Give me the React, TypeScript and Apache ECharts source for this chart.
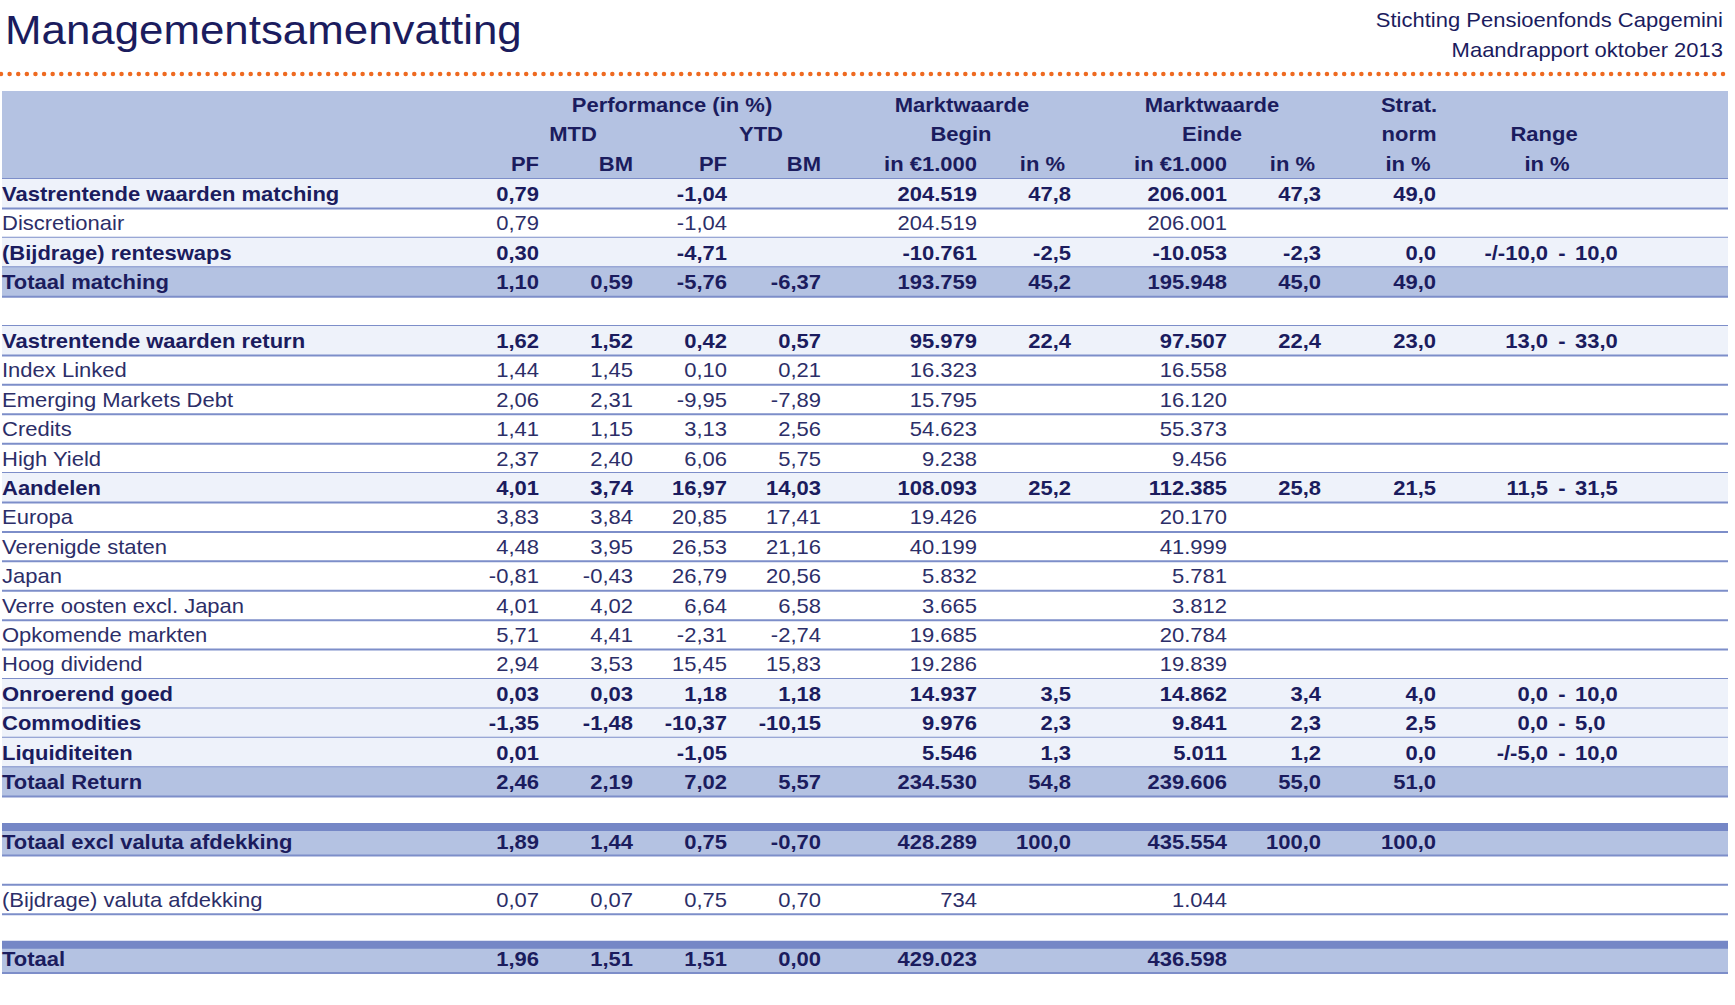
import React, { useEffect, useRef } from "react";
import * as echarts from "echarts";

// ---------- data ----------
const rowLabels: string[] = [
  "Vastrentende waarden matching",
  "Discretionair",
  "(Bijdrage) renteswaps",
  "Totaal matching",
  "",
  "Vastrentende waarden return",
  "Index Linked",
  "Emerging Markets Debt",
  "Credits",
  "High Yield",
  "Aandelen",
  "Europa",
  "Verenigde staten",
  "Japan",
  "Verre oosten excl. Japan",
  "Opkomende markten",
  "Hoog dividend",
  "Onroerend goed",
  "Commodities",
  "Liquiditeiten",
  "Totaal Return",
  "",
  "Totaal excl valuta afdekking",
  "",
  "(Bijdrage) valuta afdekking",
  "",
  "Totaal",
];

// sub = bold on light band, item = plain, total = bold on blue band, grand = total with top bar
const rowKinds: string[] = [
  "sub", "item", "sub", "total", "blank",
  "sub", "item", "item", "item", "item",
  "sub", "item", "item", "item", "item", "item", "item",
  "sub", "sub", "sub", "total", "blank",
  "grand", "blank", "item", "blank", "grand",
];

const N = null;
const mtdPF = [0.79, 0.79, 0.30, 1.10, N, 1.62, 1.44, 2.06, 1.41, 2.37, 4.01, 3.83, 4.48, -0.81, 4.01, 5.71, 2.94, 0.03, -1.35, 0.01, 2.46, N, 1.89, N, 0.07, N, 1.96];
const mtdBM = [N, N, N, 0.59, N, 1.52, 1.45, 2.31, 1.15, 2.40, 3.74, 3.84, 3.95, -0.43, 4.02, 4.41, 3.53, 0.03, -1.48, N, 2.19, N, 1.44, N, 0.07, N, 1.51];
const ytdPF = [-1.04, -1.04, -4.71, -5.76, N, 0.42, 0.10, -9.95, 3.13, 6.06, 16.97, 20.85, 26.53, 26.79, 6.64, -2.31, 15.45, 1.18, -10.37, -1.05, 7.02, N, 0.75, N, 0.75, N, 1.51];
const ytdBM = [N, N, N, -6.37, N, 0.57, 0.21, -7.89, 2.56, 5.75, 14.03, 17.41, 21.16, 20.56, 6.58, -2.74, 15.83, 1.18, -10.15, N, 5.57, N, -0.70, N, 0.70, N, 0.00];
const beginValue = [204519, 204519, -10761, 193759, N, 95979, 16323, 15795, 54623, 9238, 108093, 19426, 40199, 5832, 3665, 19685, 19286, 14937, 9976, 5546, 234530, N, 428289, N, 734, N, 429023];
const beginPct = [47.8, N, -2.5, 45.2, N, 22.4, N, N, N, N, 25.2, N, N, N, N, N, N, 3.5, 2.3, 1.3, 54.8, N, 100.0, N, N, N, N];
const eindeValue = [206001, 206001, -10053, 195948, N, 97507, 16558, 16120, 55373, 9456, 112385, 20170, 41999, 5781, 3812, 20784, 19839, 14862, 9841, 5011, 239606, N, 435554, N, 1044, N, 436598];
const eindePct = [47.3, N, -2.3, 45.0, N, 22.4, N, N, N, N, 25.8, N, N, N, N, N, N, 3.4, 2.3, 1.2, 55.0, N, 100.0, N, N, N, N];
const stratNorm = [49.0, N, 0.0, 49.0, N, 23.0, N, N, N, N, 21.5, N, N, N, N, N, N, 4.0, 2.5, 0.0, 51.0, N, 100.0, N, N, N, N];
const rangeLow = [N, N, -10.0, N, N, 13.0, N, N, N, N, 11.5, N, N, N, N, N, N, 0.0, 0.0, -5.0, N, N, N, N, N, N, N];
const rangeHigh = [N, N, 10.0, N, N, 33.0, N, N, N, N, 31.5, N, N, N, N, N, N, 10.0, 5.0, 10.0, N, N, N, N, N, N, N];

const titleText = "Managementsamenvatting";
const subtitleLines = ["Stichting Pensioenfonds Capgemini", "Maandrapport oktober 2013"];

// ---------- formatting ----------
const fmt2 = (v: number | null) => (v === null ? "" : v.toFixed(2).replace(".", ","));
const fmt1 = (v: number | null) => (v === null ? "" : v.toFixed(1).replace(".", ","));
const fmtK = (v: number | null) => {
  if (v === null) return "";
  const s = Math.abs(v).toString().replace(/\B(?=(\d{3})+(?!\d))/g, ".");
  return (v < 0 ? "-" : "") + s;
};
const fmtRange = (v: number | null) => (v === null ? "" : v < 0 ? "-/-" + fmt1(-v) : fmt1(v));

// ---------- layout / style ----------
const W = 1735;
const H = 1005;
const TABLE_L = 2;
const TABLE_R = 1728;
const ROW_TOP = 179;
const ROW_H = 29.41;
const SX = 1.1;
const FS = 20;
const NAVY = "#1b1c5e";
const NAVY_N = "#2c2e68";
const BAND = "#b4c2e2";
const LIGHT = "#eef2fa";
const RULE = "#7d8ec9";
const BAR = "#7587c6";
const FONT_FAMILY = '"Liberation Sans", Arial, sans-serif';

type Col = { values: (number | null)[]; fmt: (v: number | null) => string; x: number };
const columns: Col[] = [
  { values: mtdPF, fmt: fmt2, x: 539 },
  { values: mtdBM, fmt: fmt2, x: 633 },
  { values: ytdPF, fmt: fmt2, x: 727 },
  { values: ytdBM, fmt: fmt2, x: 821 },
  { values: beginValue, fmt: fmtK, x: 977 },
  { values: beginPct, fmt: fmt1, x: 1071 },
  { values: eindeValue, fmt: fmtK, x: 1227 },
  { values: eindePct, fmt: fmt1, x: 1321 },
  { values: stratNorm, fmt: fmt1, x: 1436 },
];
const RANGE_LOW_R = 1548;
const RANGE_DASH_C = 1562;
const RANGE_HIGH_L = 1575;

const headerTexts: { t: string; x: number; y: number; a: string }[] = [
  { t: "Performance (in %)", x: 672, y: 105, a: "center" },
  { t: "Marktwaarde", x: 962, y: 105, a: "center" },
  { t: "Marktwaarde", x: 1212, y: 105, a: "center" },
  { t: "Strat.", x: 1409, y: 105, a: "center" },
  { t: "MTD", x: 573, y: 134, a: "center" },
  { t: "YTD", x: 761, y: 134, a: "center" },
  { t: "Begin", x: 961, y: 134, a: "center" },
  { t: "Einde", x: 1212, y: 134, a: "center" },
  { t: "norm", x: 1409, y: 134, a: "center" },
  { t: "Range", x: 1544, y: 134, a: "center" },
  { t: "PF", x: 539, y: 164, a: "right" },
  { t: "BM", x: 633, y: 164, a: "right" },
  { t: "PF", x: 727, y: 164, a: "right" },
  { t: "BM", x: 821, y: 164, a: "right" },
  { t: "in €1.000", x: 977, y: 164, a: "right" },
  { t: "in %", x: 1065, y: 164, a: "right" },
  { t: "in €1.000", x: 1227, y: 164, a: "right" },
  { t: "in %", x: 1315, y: 164, a: "right" },
  { t: "in %", x: 1408, y: 164, a: "center" },
  { t: "in %", x: 1547, y: 164, a: "center" },
];

function txt(text: string, x: number, y: number, align: string, bold: boolean, color: string, size = FS, sx = SX) {
  return {
    type: "text",
    x,
    y,
    scaleX: sx,
    silent: true,
    style: {
      text,
      x: 0,
      y: 0,
      font: `${bold ? "bold " : ""}${size}px ${FONT_FAMILY}`,
      fill: color,
      align,
      textAlign: align,
      verticalAlign: "middle",
      textVerticalAlign: "middle",
    },
  };
}

export default function App() {
  const ref = useRef<HTMLDivElement>(null);
  useEffect(() => {
    document.body.style.margin = "0";
    if (!ref.current) return;
    const chart = echarts.init(ref.current, undefined, { renderer: "svg" });

    const graphics: any[] = [
      txt(titleText, 5, 30, "left", false, NAVY, 41, 1.07),
      txt(subtitleLines[0], 1723, 20, "right", false, NAVY, FS, SX),
      txt(subtitleLines[1], 1723, 50, "right", false, NAVY, FS, SX),
      {
        type: "line",
        silent: true,
        shape: { x1: 1, y1: 74, x2: 1731, y2: 74 },
        style: { stroke: "#ee6a21", lineWidth: 4.5, lineDash: [0.01, 8.6], lineCap: "round" },
      },
      {
        type: "rect",
        silent: true,
        shape: { x: TABLE_L, y: 91, width: TABLE_R - TABLE_L, height: ROW_TOP - 91 },
        style: { fill: BAND },
      },
      {
        type: "line",
        silent: true,
        shape: { x1: TABLE_L, y1: ROW_TOP, x2: TABLE_R, y2: ROW_TOP },
        style: { stroke: RULE, lineWidth: 2 },
      },
      ...headerTexts.map((h) => txt(h.t, h.x, h.y, h.a, true, NAVY)),
    ];

    const renderItem = (params: any, api: any) => {
      const i = params.dataIndex;
      const c = api.coord([0, i]);
      const h = api.size([0, 1])[1];
      const yc = c[1];
      const top = yc - h / 2;
      const bottom = yc + h / 2;
      const kind = rowKinds[i];
      const bold = kind !== "item";
      const color = bold ? NAVY : NAVY_N;
      const children: any[] = [];
      if (kind === "sub") {
        children.push({ type: "rect", shape: { x: TABLE_L, y: top, width: TABLE_R - TABLE_L, height: h }, style: { fill: LIGHT } });
      }
      if (kind === "total" || kind === "grand") {
        children.push({ type: "rect", shape: { x: TABLE_L, y: top, width: TABLE_R - TABLE_L, height: h }, style: { fill: BAND } });
      }
      if (kind === "grand") {
        children.push({ type: "rect", shape: { x: TABLE_L, y: top - 3, width: TABLE_R - TABLE_L, height: 8 }, style: { fill: BAR } });
      }
      const nextKind = rowKinds[i + 1];
      if (!(kind === "blank" && nextKind === "grand")) {
        children.push({ type: "line", shape: { x1: TABLE_L, y1: bottom, x2: TABLE_R, y2: bottom }, style: { stroke: RULE, lineWidth: 2 } });
      }
      if (kind !== "blank") {
        const ty = kind === "grand" ? yc + 1 : yc;
        children.push(txt(rowLabels[i], api.coord([TABLE_L, i])[0], ty, "left", bold, color));
        columns.forEach((col) => {
          const s = col.fmt(col.values[i]);
          if (s) children.push(txt(s, api.coord([col.x, i])[0], ty, "right", bold, color));
        });
        if (rangeLow[i] !== null) {
          children.push(txt(fmtRange(rangeLow[i]), api.coord([RANGE_LOW_R, i])[0], ty, "right", bold, color));
          children.push(txt("-", api.coord([RANGE_DASH_C, i])[0], ty, "center", bold, color));
          children.push(txt(fmtRange(rangeHigh[i]), api.coord([RANGE_HIGH_L, i])[0], ty, "left", bold, color));
        }
      }
      return { type: "group", children };
    };

    chart.setOption({
      animation: false,
      grid: { left: 0, top: ROW_TOP, width: W, height: ROW_H * rowLabels.length },
      xAxis: { type: "value", min: 0, max: W, show: false },
      yAxis: { type: "category", data: rowLabels.map((_, i) => String(i)), inverse: true, show: false },
      graphic: graphics,
      series: [
        {
          type: "custom",
          silent: true,
          clip: false,
          renderItem,
          data: rowLabels.map((_, i) => [0, i]),
        },
      ],
    });
    return () => chart.dispose();
  }, []);
  return <div ref={ref} style={{ width: W, height: H, background: "#fff" }} />;
}
